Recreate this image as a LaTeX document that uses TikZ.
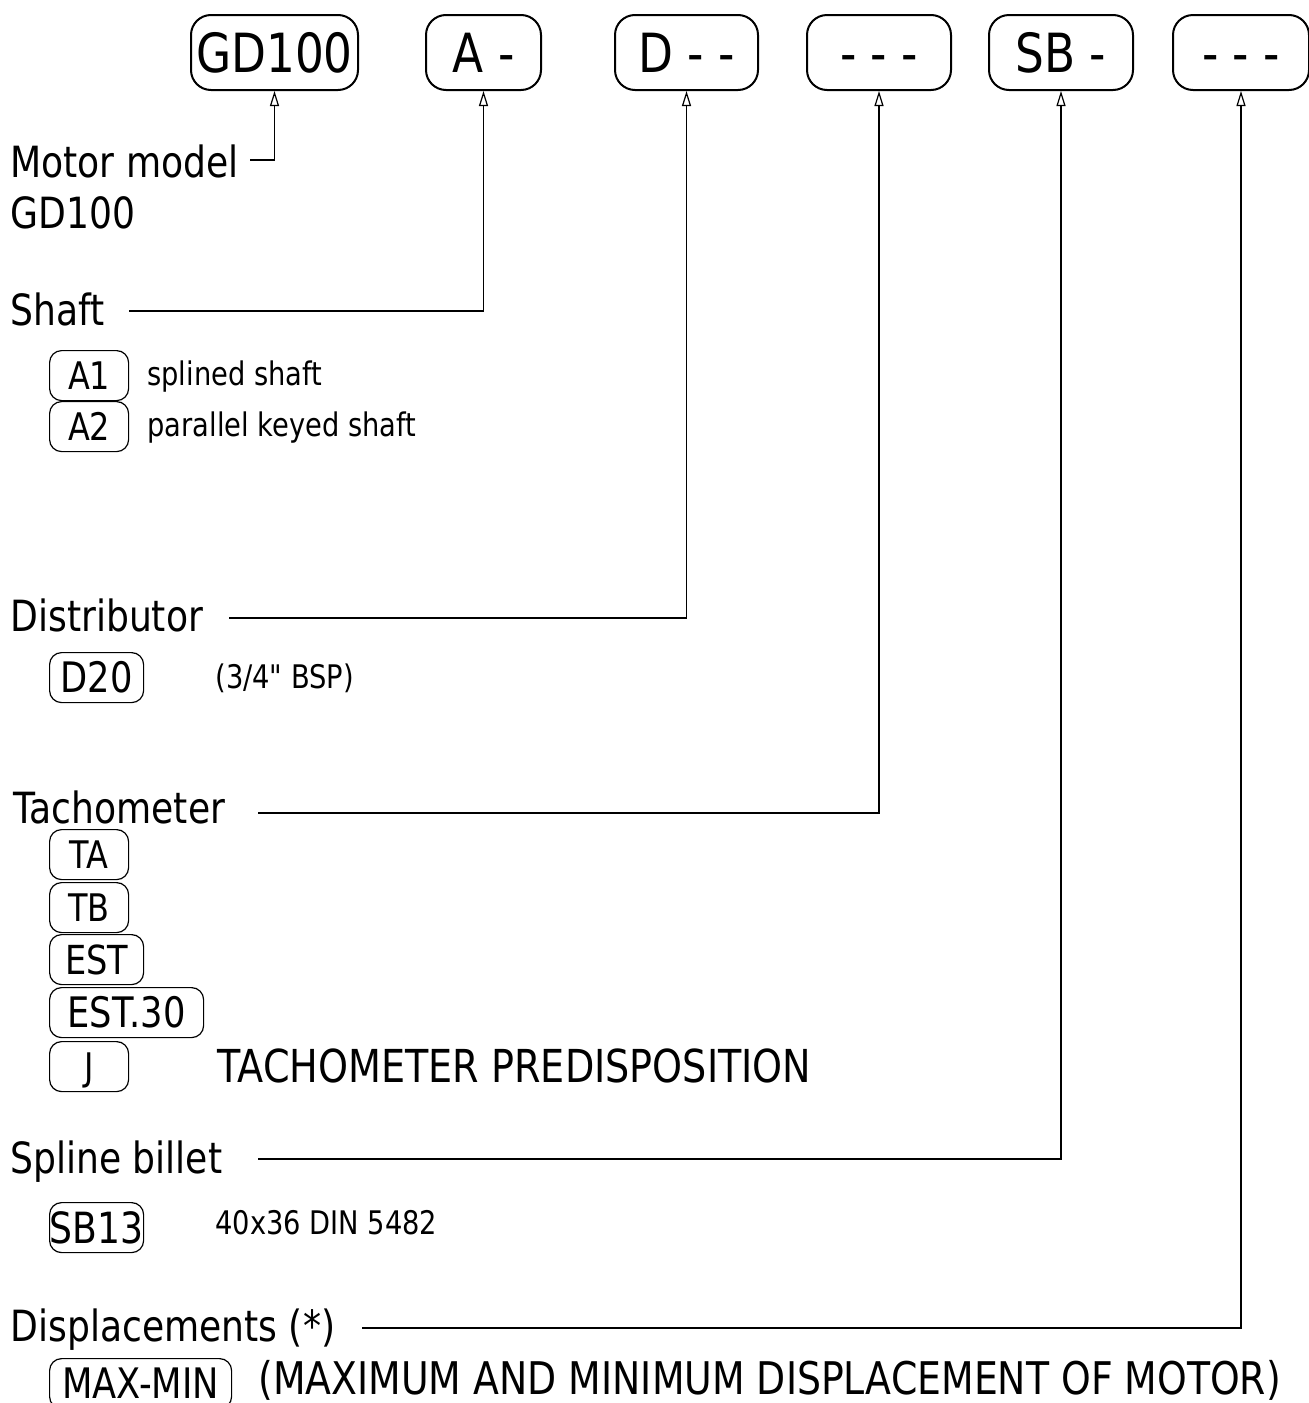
\documentclass[tikz,border=0pt]{standalone}
\usepackage{fontspec}
\setmainfont{DejaVu Sans}[FakeStretch=0.84, Ligatures=TeXOff]
\usetikzlibrary{arrows.meta}
\newcommand{\pxfont}[1]{\fontsize{#1}{#1}\selectfont}
\tikzset{
  code/.style={draw, line width=1pt, rounded corners=10pt, inner sep=0pt, anchor=north west,
    minimum height=37.5pt, font=\pxfont{27}, text height=19.7pt, text depth=0pt},
  opt/.style={draw, line width=0.6pt, rounded corners=6pt, inner sep=0pt, anchor=north west,
    minimum height=25pt, font=\pxfont{19}, text height=13.85pt, text depth=0pt},
  optbig/.style={opt, font=\pxfont{21}, text height=15.3pt},
  lbl/.style={anchor=base west, inner sep=0pt, font=\pxfont{21.5}},
  note/.style={anchor=base west, inner sep=0pt, font=\pxfont{16.25}},
  conn/.style={line width=0.6pt, -{Triangle[open, length=7.5pt, width=4.5pt]}},
}
\begin{document}
\begin{tikzpicture}[x=0.5pt,y=-0.5pt]
\useasboundingbox (0,0) rectangle (1309,1403);
% code boxes
\node[code, minimum width=83.5pt] (gd) at (190,14) {GD100};
\node[code, minimum width=57.5pt] (shaftcode) at (425,14) {A -};
\node[code, minimum width=71.5pt] (distcode) at (614,14) {D - -};
\node[code, minimum width=72pt] (tachocode) at (806,14) {- - -};
\node[code, minimum width=72pt] (billetcode) at (988,14) {SB -};
\node[code, minimum width=68pt] (dispcode) at (1172,14) {- - -};
% motor model
\node[lbl] (motor) at (10,177) {Motor model};
\node[lbl] (motorgd) at (10,228) {GD100};
\coordinate (motorin) at (250,160);
\draw[conn] (motorin) -| (gd.south);
% shaft
\node[lbl] (shaft) at (10,325) {Shaft};
\coordinate (shaftin) at (129,311);
\draw[conn] (shaftin) -| (shaftcode.south);
\node[opt, minimum width=39.5pt] (a1) at (49,350) {A1};
\node[opt, minimum width=39.5pt] (a2) at (49,401) {A2};
\node[note] (a1txt) at (147,385) {splined shaft};
\node[note] (a2txt) at (147,436) {parallel keyed shaft};
% distributor
\node[lbl] (dist) at (10,631) {Distributor};
\coordinate (distin) at (229,618);
\draw[conn] (distin) -| (distcode.south);
\node[optbig, minimum width=47pt] (d20) at (49,652) {D20};
\node[note] (d20txt) at (215,688) {(3/4" BSP)};
% tachometer
\node[lbl] (tacho) at (13,823) {Tachometer};
\coordinate (tachoin) at (258,813);
\draw[conn] (tachoin) -| (tachocode.south);
\node[opt, minimum width=39.5pt] (ta) at (49,829) {TA};
\node[opt, minimum width=39.5pt] (tb) at (49,882) {TB};
\node[opt, minimum width=47pt, font=\pxfont{20}, text height=14.6pt] (est) at (49,934) {EST};
\node[optbig, minimum width=77pt] (est30) at (49,987) {EST.30};
\node[opt, minimum width=39.5pt] (j) at (49,1041) {J};
\node[lbl, font=\pxfont{22.7}] (jtxt) at (217,1082) {TACHOMETER PREDISPOSITION};
% spline billet
\node[lbl] (billet) at (10,1173) {Spline billet};
\coordinate (billetin) at (258,1159);
\draw[conn] (billetin) -| (billetcode.south);
\node[optbig, minimum width=47pt, font=\pxfont{21.5}, text height=15.7pt] (sb13) at (49,1202) {SB13};
\node[note] (sb13txt) at (215,1234) {40x36 DIN 5482};
% displacements
\node[lbl] (disp) at (10,1341) {Displacements (*)};
\coordinate (dispin) at (362,1328);
\draw[conn] (dispin) -| (dispcode.south);
\node[optbig, minimum width=91pt, font=\pxfont{21}, text height=15.3pt] (maxmin) at (49,1358) {MAX-MIN};
\node[lbl, font=\pxfont{22.5}] (maxmintxt) at (258,1394) {(MAXIMUM AND MINIMUM DISPLACEMENT OF MOTOR)};
\end{tikzpicture}
\end{document}
